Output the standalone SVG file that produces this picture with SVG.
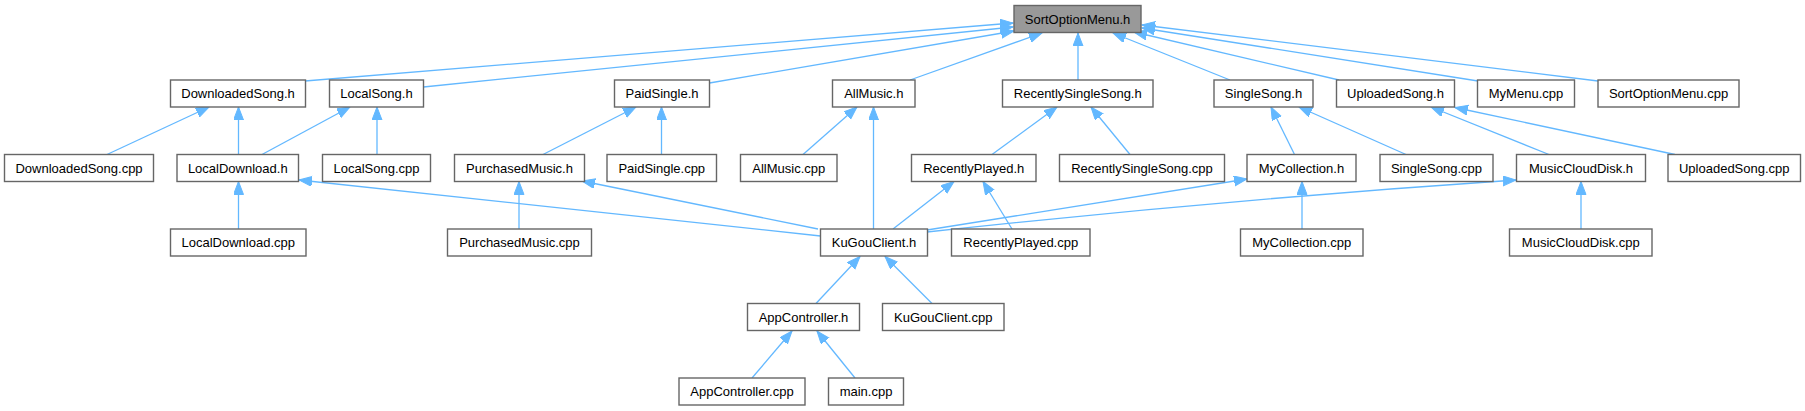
<svg xmlns="http://www.w3.org/2000/svg" width="1805" height="411" viewBox="0 0 1805 411">
<style>
.n rect{fill:#ffffff;stroke:#666666;stroke-width:1.4}
.n.root rect{fill:#999999}
.n text{font-family:"Liberation Sans",Arial,sans-serif;font-size:13px;fill:#000000;text-anchor:middle}
.e path{fill:none;stroke:#63b8ff;stroke-width:1.3;marker-end:url(#ah)}
</style>
<defs>
<marker id="ah" markerUnits="userSpaceOnUse" markerWidth="15" markerHeight="12" refX="13" refY="5" orient="auto">
<path d="M0,0 L13,5 L0,10 Z" fill="#63b8ff" stroke="#63b8ff" stroke-width="1"/>
</marker>
</defs>
<rect width="1805" height="411" fill="#ffffff"/>
<g id="connectors" class="e">
<path d="M305,81 L1013,23"/>
<path d="M423.5,87 L1013,27"/>
<path d="M709.5,83 L1014,31"/>
<path d="M910,80 L1042,33"/>
<path d="M1078,80 L1078,33"/>
<path d="M1230,80 L1113,33"/>
<path d="M1339,80 L1134,32"/>
<path d="M1478,81 L1142,28"/>
<path d="M1598,81 L1142,25"/>
<path d="M107,154.5 L209,107"/>
<path d="M238.5,154.5 L238.5,107"/>
<path d="M262,154.5 L350,107"/>
<path d="M377,154.5 L377,107"/>
<path d="M543,154.5 L636,107"/>
<path d="M661.5,154.5 L661.5,107"/>
<path d="M803,154.5 L857,107"/>
<path d="M873.5,229 L873.5,107"/>
<path d="M992,154.5 L1057,107"/>
<path d="M1130,154.5 L1091,107"/>
<path d="M1294.5,154.5 L1271,107"/>
<path d="M1406,154.5 L1299,107"/>
<path d="M1549,154.5 L1431,107"/>
<path d="M1675,154.5 L1455,107.5"/>
<path d="M238.5,229 L238.5,181.5"/>
<path d="M820.5,236 L299,180"/>
<path d="M818,229 L582,181"/>
<path d="M519,229 L519,181.5"/>
<path d="M893,229 L954,181.5"/>
<path d="M1012,229 L983,181.5"/>
<path d="M927,230 L1247,179"/>
<path d="M1302,229 L1302,181.5"/>
<path d="M927,232 Q1220,200 1516,180"/>
<path d="M1581,229 L1581,181.5"/>
<path d="M816,303.5 L860,256.5"/>
<path d="M932,303.5 L885,256.5"/>
<path d="M752,378 L792,331"/>
<path d="M855,378 L817,331"/>
</g>
<g id="SortOptionMenu_h" class="n root"><rect x="1014" y="5.5" width="127" height="27"/><text x="1077.5" y="23.5">SortOptionMenu.h</text></g>
<g id="DownloadedSong_h" class="n"><rect x="170.5" y="80" width="135" height="27"/><text x="238" y="98">DownloadedSong.h</text></g>
<g id="LocalSong_h" class="n"><rect x="329.5" y="80" width="94" height="27"/><text x="376.5" y="98">LocalSong.h</text></g>
<g id="PaidSingle_h" class="n"><rect x="614.5" y="80" width="95" height="27"/><text x="662" y="98">PaidSingle.h</text></g>
<g id="AllMusic_h" class="n"><rect x="832.5" y="80" width="82.5" height="27"/><text x="873.75" y="98">AllMusic.h</text></g>
<g id="RecentlySingleSong_h" class="n"><rect x="1002.5" y="80" width="150.5" height="27"/><text x="1077.75" y="98">RecentlySingleSong.h</text></g>
<g id="SingleSong_h" class="n"><rect x="1214" y="80" width="99" height="27"/><text x="1263.5" y="98">SingleSong.h</text></g>
<g id="UploadedSong_h" class="n"><rect x="1336.5" y="80" width="118" height="27"/><text x="1395.5" y="98">UploadedSong.h</text></g>
<g id="MyMenu_cpp" class="n"><rect x="1477.5" y="80" width="97" height="27"/><text x="1526" y="98">MyMenu.cpp</text></g>
<g id="SortOptionMenu_cpp" class="n"><rect x="1598" y="80" width="141" height="27"/><text x="1668.5" y="98">SortOptionMenu.cpp</text></g>
<g id="DownloadedSong_cpp" class="n"><rect x="4.5" y="154.5" width="149" height="27"/><text x="79" y="172.5">DownloadedSong.cpp</text></g>
<g id="LocalDownload_h" class="n"><rect x="177" y="154.5" width="121.5" height="27"/><text x="237.75" y="172.5">LocalDownload.h</text></g>
<g id="LocalSong_cpp" class="n"><rect x="322.5" y="154.5" width="108" height="27"/><text x="376.5" y="172.5">LocalSong.cpp</text></g>
<g id="PurchasedMusic_h" class="n"><rect x="454.5" y="154.5" width="130" height="27"/><text x="519.5" y="172.5">PurchasedMusic.h</text></g>
<g id="PaidSingle_cpp" class="n"><rect x="607" y="154.5" width="109.5" height="27"/><text x="661.75" y="172.5">PaidSingle.cpp</text></g>
<g id="AllMusic_cpp" class="n"><rect x="740.5" y="154.5" width="96.5" height="27"/><text x="788.75" y="172.5">AllMusic.cpp</text></g>
<g id="RecentlyPlayed_h" class="n"><rect x="911.5" y="154.5" width="124.5" height="27"/><text x="973.75" y="172.5">RecentlyPlayed.h</text></g>
<g id="RecentlySingleSong_cpp" class="n"><rect x="1059.5" y="154.5" width="165" height="27"/><text x="1142" y="172.5">RecentlySingleSong.cpp</text></g>
<g id="MyCollection_h" class="n"><rect x="1247" y="154.5" width="109" height="27"/><text x="1301.5" y="172.5">MyCollection.h</text></g>
<g id="SingleSong_cpp" class="n"><rect x="1380" y="154.5" width="113" height="27"/><text x="1436.5" y="172.5">SingleSong.cpp</text></g>
<g id="MusicCloudDisk_h" class="n"><rect x="1516.5" y="154.5" width="129" height="27"/><text x="1581" y="172.5">MusicCloudDisk.h</text></g>
<g id="UploadedSong_cpp" class="n"><rect x="1668" y="154.5" width="132.5" height="27"/><text x="1734.25" y="172.5">UploadedSong.cpp</text></g>
<g id="LocalDownload_cpp" class="n"><rect x="170.5" y="229" width="135.5" height="27"/><text x="238.25" y="247">LocalDownload.cpp</text></g>
<g id="PurchasedMusic_cpp" class="n"><rect x="447.5" y="229" width="144" height="27"/><text x="519.5" y="247">PurchasedMusic.cpp</text></g>
<g id="KuGouClient_h" class="n"><rect x="820.5" y="229" width="107" height="27"/><text x="874" y="247">KuGouClient.h</text></g>
<g id="RecentlyPlayed_cpp" class="n"><rect x="951.5" y="229" width="138.5" height="27"/><text x="1020.75" y="247">RecentlyPlayed.cpp</text></g>
<g id="MyCollection_cpp" class="n"><rect x="1240.5" y="229" width="122.5" height="27"/><text x="1301.75" y="247">MyCollection.cpp</text></g>
<g id="MusicCloudDisk_cpp" class="n"><rect x="1509.5" y="229" width="142.5" height="27"/><text x="1580.75" y="247">MusicCloudDisk.cpp</text></g>
<g id="AppController_h" class="n"><rect x="747.5" y="303.5" width="112" height="27"/><text x="803.5" y="321.5">AppController.h</text></g>
<g id="KuGouClient_cpp" class="n"><rect x="882.5" y="303.5" width="121.5" height="27"/><text x="943.25" y="321.5">KuGouClient.cpp</text></g>
<g id="AppController_cpp" class="n"><rect x="679" y="378" width="126" height="27"/><text x="742" y="396">AppController.cpp</text></g>
<g id="main_cpp" class="n"><rect x="828.5" y="378" width="75" height="27"/><text x="866" y="396">main.cpp</text></g>
</svg>
